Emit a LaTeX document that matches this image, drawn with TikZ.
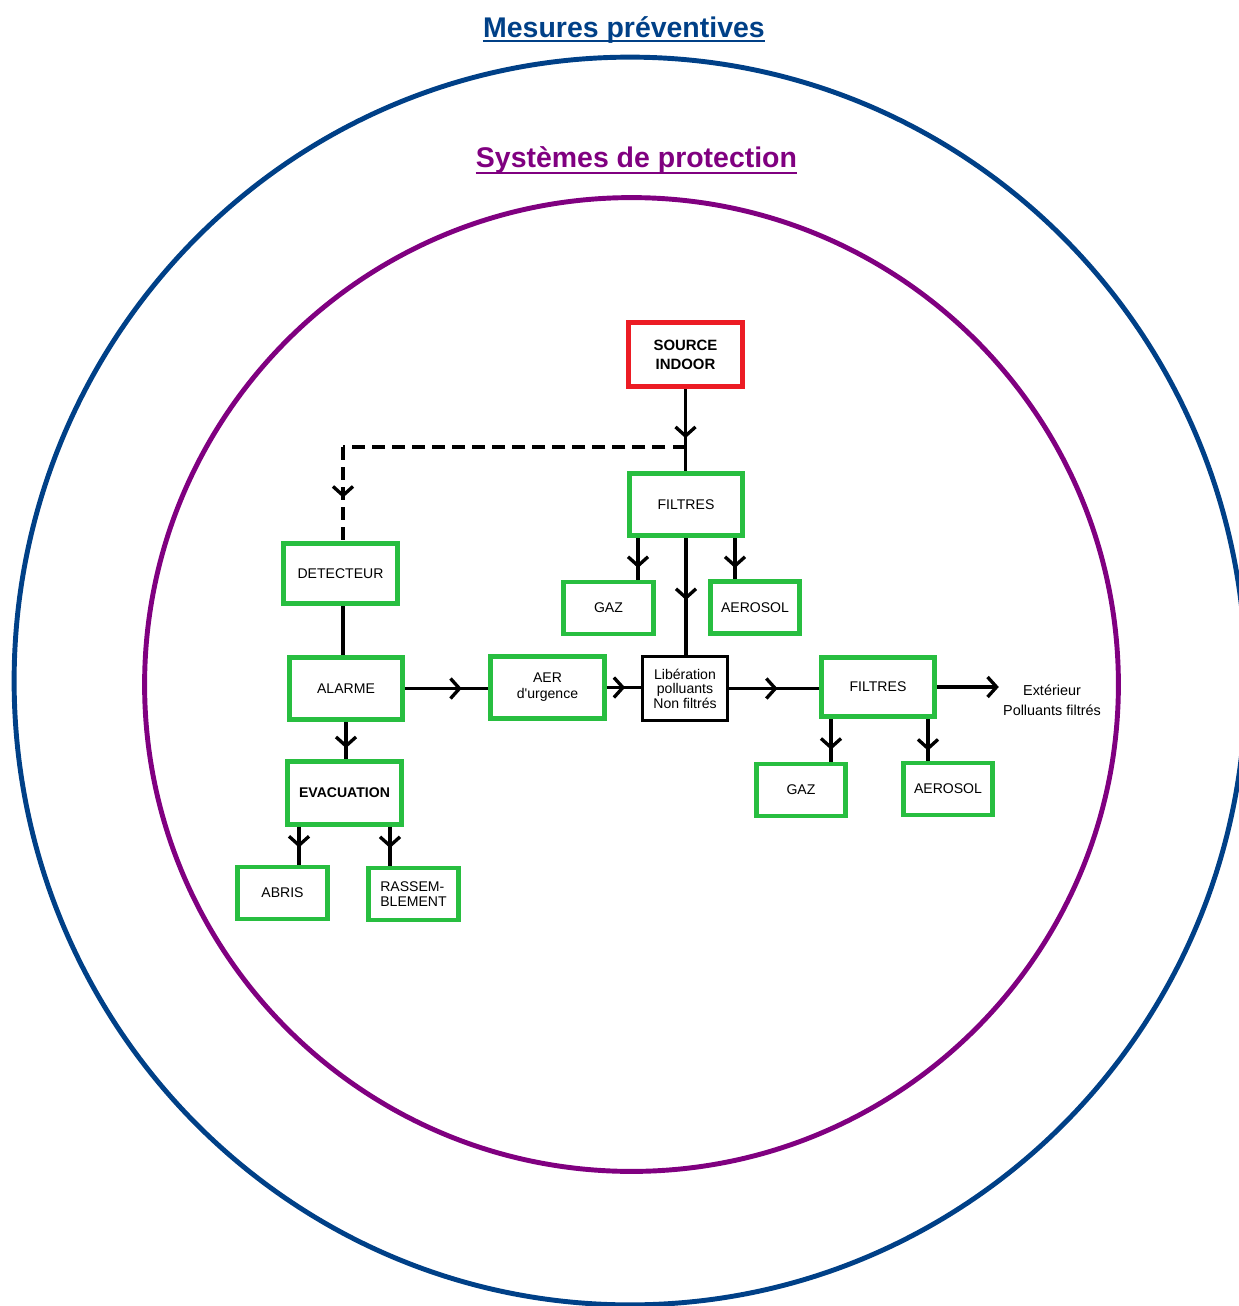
\documentclass[tikz,border=0pt]{standalone}
\usepackage{fontspec}
\setmainfont{Liberation Sans}
\usepackage{tikz}
\usetikzlibrary{arrows.meta,decorations.markings}
\definecolor{navy}{RGB}{0,64,135}
\definecolor{plum}{RGB}{128,0,128}
\definecolor{boxgreen}{RGB}{40,190,64}
\definecolor{boxred}{RGB}{236,28,36}

\begin{document}
\begin{tikzpicture}[x=0.02cm, y=-0.02cm, >={Straight Barb[length=1.8mm,width=4mm]},
	box/.style={shape=rectangle, draw=boxgreen, line width=2.7pt, inner sep=1pt, align=center, font=\fontsize{8}{9}\selectfont, minimum width=2.27cm, minimum height=1.25cm},
	small/.style={minimum width=1.79cm, minimum height=1.04cm},
	srcbox/.style={box, draw=boxred, font=\bfseries\fontsize{8.5}{10.8}\selectfont, minimum width=2.29cm, minimum height=1.29cm},
	libbox/.style={box, draw=black, line width=1.8pt, font=\fontsize{8}{8.2}\selectfont, minimum width=1.70cm, minimum height=1.28cm},
	title/.style={font=\bfseries\fontsize{16.2}{19}\selectfont, inner sep=0, anchor=base},
	conn/.style={line width=1.9pt},
	dline/.style={conn, dash pattern=on 7.4pt off 4pt},
	midarr/.style={postaction={decorate}, decoration={markings, mark=at position #1 with {\arrow{>}}}}]
	\useasboundingbox (0,0) rectangle (1239,1306);
	\clip (0,0) rectangle (1239,1306);
	\draw[navy, line width=2.8pt] (630,681) ellipse [x radius=12.32cm, y radius=12.48cm];
	\draw[plum, line width=2.8pt] (631.5,684.5) circle [radius=9.74cm];
	\node[title, text=navy] (t1) at (624,37) {Mesures préventives};
	\draw[navy, line width=1.3pt] ([yshift=-0.08cm]t1.base west) -- ([yshift=-0.08cm]t1.base east);
	\node[title, text=plum] (t2) at (636.5,167) {Systèmes de protection};
	\draw[plum, line width=1.3pt] ([yshift=-0.12cm]t2.base west) -- ([yshift=-0.12cm]t2.base east);

	\node[srcbox] (src) at (685.5,354.5) {SOURCE\\INDOOR};
	\node[box] (f1) at (686,504.5) {FILTRES};
	\node[box, minimum height=1.21cm] (det) at (340.5,573.5) {DETECTEUR};
	\node[box, small] (g1) at (608.5,608) {GAZ};
	\node[box, small] (a1) at (755,607.5) {AEROSOL};
	\node[box] (alm) at (346,688.5) {ALARME};
	\node[box] (aer) at (547.5,687.5) {AER\\d\textquotesingle urgence};
	\node[libbox] (lib) at (685,688.5) {Libération\\polluants\\Non filtrés};
	\node[box, minimum height=1.19cm, text depth=-0.06cm] (f2) at (878,687) {FILTRES};
	\node[box, small] (g2) at (801,790) {GAZ};
	\node[box, small] (a2) at (948,789) {AEROSOL};
	\node[box, font=\bfseries\fontsize{8}{9}\selectfont] (evac) at (344.5,793) {EVACUATION};
	\node[box, small] (abr) at (282.5,893) {ABRIS};
	\node[box, small, align=left] (ras) at (413.5,894) {RASSEM-\\BLEMENT};
	\node[align=center, inner sep=0.08cm, font=\fontsize{8.2}{11.3}\selectfont] (ext) at (1052,700) {Extérieur\\Polluants filtrés};

	\coordinate (j) at (685.5,447);
	\coordinate (dc) at (343,447);
	\draw[conn, midarr=0.6] (src.south) -- (src.south |- f1.north);
	\draw[dline] (j) -- (dc);
	\draw[dline, midarr=0.54] (dc) -- (dc |- det.north);
	\draw[conn, midarr=0.72] ([xshift=-0.96cm]f1.south) -- ([xshift=-0.96cm]f1.south |- g1.north);
	\draw[conn, midarr=0.73] ([xshift=0.98cm]f1.south) -- ([xshift=0.98cm]f1.south |- a1.north);
	\draw[conn, midarr=0.53] (f1.south) -- (f1.south |- lib.north);
	\draw[conn] (det.south -| dc) -- (alm.north -| dc);
	\draw[conn, midarr=0.68] (alm.east) -- (alm.east -| aer.west);
	\draw[conn, midarr=0.54] (aer.east) -- (aer.east -| lib.west);
	\draw[conn, midarr=0.54] (lib.east) -- (lib.east -| f2.west);
	\draw[conn, ->] (f2.east) -- (f2.east -| ext.west);
	\draw[conn, midarr=0.72] ([xshift=-0.94cm]f2.south) -- ([xshift=-0.94cm]f2.south |- g2.north);
	\draw[conn, midarr=0.76] ([xshift=1.0cm]f2.south) -- ([xshift=1.0cm]f2.south |- a2.north);
	\draw[conn, midarr=0.7] (alm.south) -- (alm.south |- evac.north);
	\draw[conn, midarr=0.55] ([xshift=-0.91cm]evac.south) -- ([xshift=-0.91cm]evac.south |- abr.north);
	\draw[conn, midarr=0.55] ([xshift=0.91cm]evac.south) -- ([xshift=0.91cm]evac.south |- ras.north);
\end{tikzpicture}
\end{document}
